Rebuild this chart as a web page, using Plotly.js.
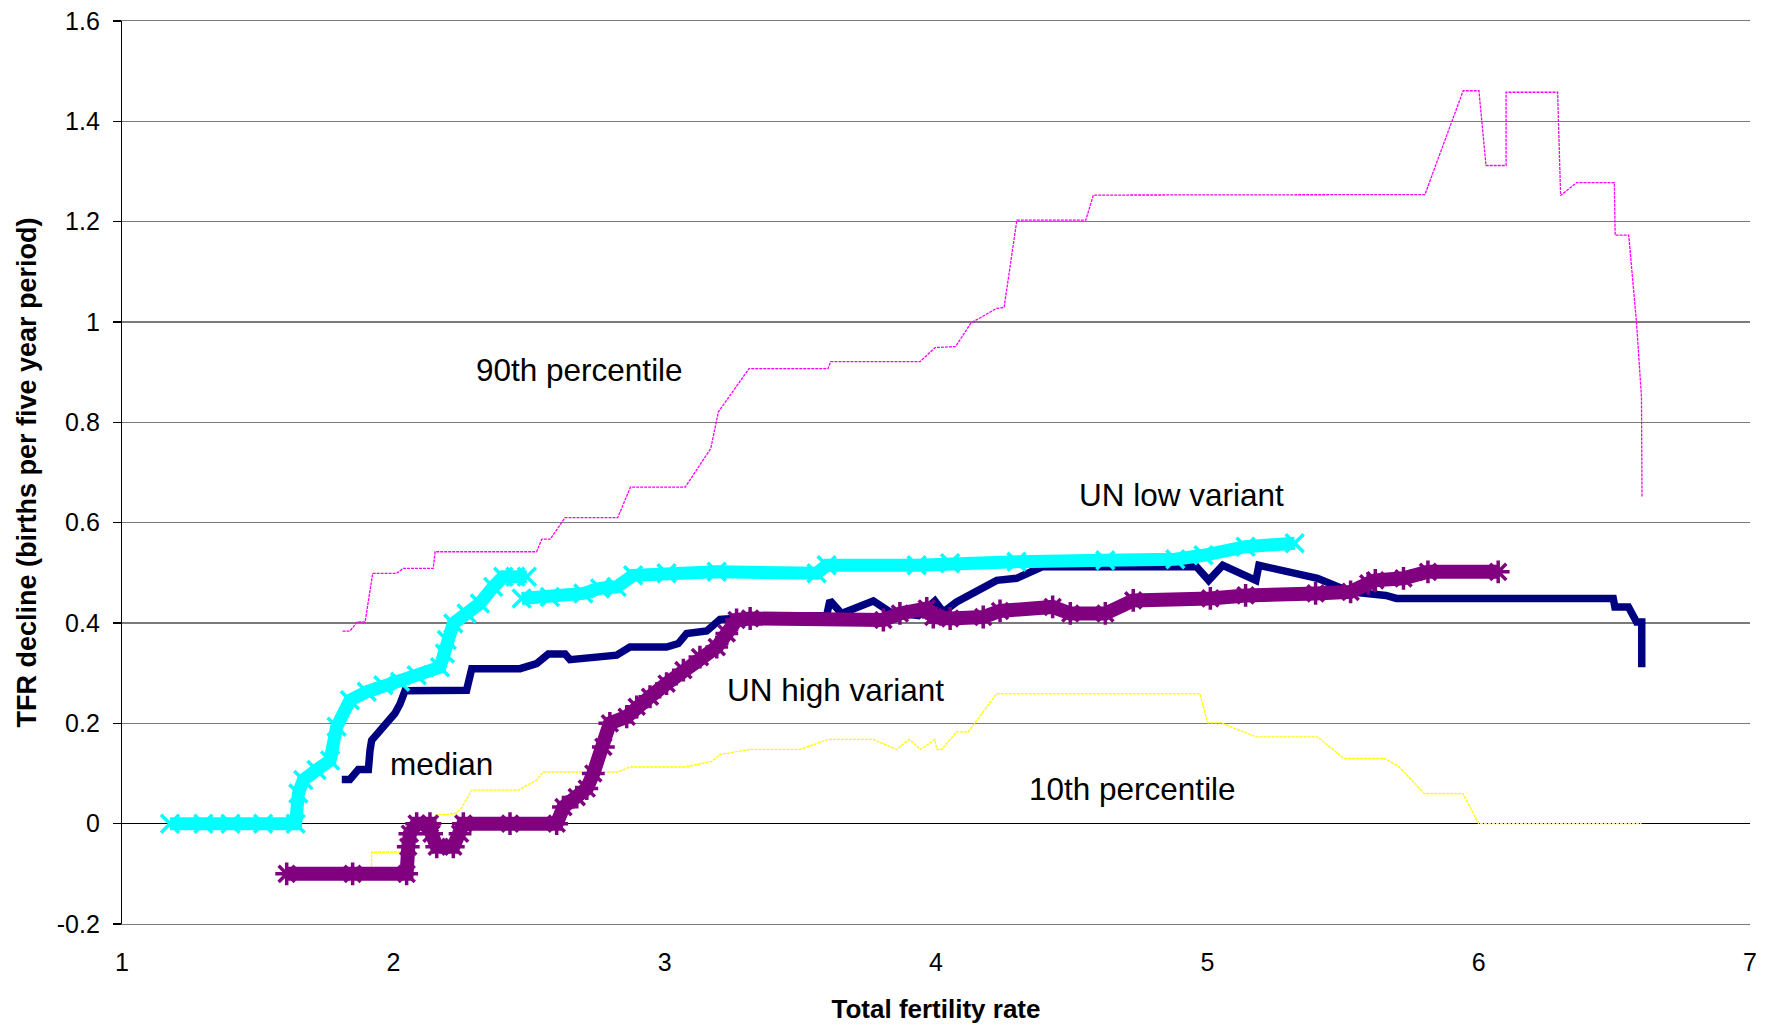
<!DOCTYPE html>
<html>
<head>
<meta charset="utf-8">
<script src="https://cdn.plot.ly/plotly-3.0.1.min.js"></script>
<style>
  html, body { margin: 0; padding: 0; background: #ffffff; }
  #chart { width: 1774px; height: 1025px; }
</style>
</head>
<body>
<div id="chart"></div>
<script>
// TFR decline per five-year period plotted against total fertility rate

// 90th percentile
const p90X = [1.813, 1.840, 1.867, 1.896, 1.924, 2.012, 2.037, 2.147, 2.154, 2.528, 2.547, 2.578, 2.633, 2.827,
  2.874, 3.076, 3.170, 3.198, 3.311, 3.602, 3.612, 3.941, 3.997, 4.072, 4.129, 4.223, 4.251, 4.298, 4.552, 4.580,
  5.802, 5.943, 6.001, 6.027, 6.101, 6.101, 6.291, 6.302, 6.361, 6.500, 6.503, 6.553, 6.582, 6.600, 6.602];
const p90Y = [0.384, 0.384, 0.402, 0.402, 0.499, 0.499, 0.509, 0.509, 0.542, 0.542, 0.567, 0.567, 0.610, 0.610,
  0.671, 0.671, 0.748, 0.821, 0.907, 0.907, 0.921, 0.921, 0.949, 0.951, 0.998, 1.027, 1.029, 1.203, 1.203, 1.253,
  1.254, 1.461, 1.461, 1.312, 1.312, 1.458, 1.458, 1.252, 1.278, 1.278, 1.173, 1.173, 0.997, 0.851, 0.651];

// 10th percentile
const p10X = [1.920, 1.920, 2.022, 2.045, 2.088, 2.157, 2.227, 2.250, 2.289, 2.461, 2.528, 2.553, 2.829, 2.872,
  3.075, 3.173, 3.204, 3.315, 3.499, 3.603, 3.769, 3.855, 3.902, 3.943, 3.996, 4.003, 4.021, 4.076, 4.119, 4.223,
  4.973, 5.001, 5.050, 5.179, 5.406, 5.503, 5.651, 5.703, 5.800, 5.942, 6.000, 6.600];
const p10Y = [-0.100, -0.057, -0.057, -0.050, -0.020, 0.017, 0.020, 0.030, 0.067, 0.067, 0.087, 0.103, 0.103, 0.113,
  0.113, 0.124, 0.138, 0.148, 0.148, 0.168, 0.168, 0.148, 0.168, 0.148, 0.168, 0.148, 0.148, 0.183, 0.183, 0.259,
  0.259, 0.201, 0.201, 0.173, 0.173, 0.130, 0.130, 0.115, 0.060, 0.060, 0.000, 0.000];

// median
const medX = [1.810, 1.840, 1.871, 1.908, 1.914, 1.920, 2.006, 2.025, 2.043, 2.098, 2.270, 2.289, 2.467, 2.528,
  2.571, 2.633, 2.651, 2.823, 2.872, 3.007, 3.050, 3.081, 3.155, 3.204, 3.253, 3.597, 3.609, 3.652, 3.769, 3.830,
  3.935, 3.996, 4.027, 4.076, 4.224, 4.297, 4.391, 4.960, 5.005, 5.057, 5.179, 5.190, 5.374, 5.406, 5.528, 5.658,
  5.697, 5.942, 6.020, 6.263, 6.496, 6.502, 6.552, 6.582, 6.601, 6.601];
const medY = [0.088, 0.088, 0.108, 0.108, 0.146, 0.166, 0.220, 0.239, 0.265, 0.265, 0.266, 0.309, 0.309, 0.319,
  0.338, 0.338, 0.327, 0.336, 0.352, 0.352, 0.359, 0.379, 0.384, 0.407, 0.409, 0.415, 0.445, 0.419, 0.444, 0.422,
  0.415, 0.444, 0.422, 0.442, 0.485, 0.489, 0.512, 0.512, 0.485, 0.515, 0.485, 0.515, 0.491, 0.489, 0.462, 0.455,
  0.449, 0.449, 0.447, 0.447, 0.449, 0.432, 0.432, 0.402, 0.402, 0.312];

// UN low variant
const lowX = [1.177, 1.300, 1.400, 1.520, 1.640, 1.650, 1.668, 1.717, 1.767, 1.791, 1.840, 1.902, 1.963, 2.025, 2.086, 2.172,
  2.190, 2.197, 2.221, 2.270, 2.319, 2.368, 2.405, 2.450, 2.492, null,
  2.473, 2.577, 2.700, 2.762, 2.823, 2.884, 3.007, 3.192, 3.560, 3.597, 3.929, 4.052, 4.297, 4.624, 4.882, 4.986,
  5.141, 5.322];
const lowY = [0.000, 0.000, 0.000, 0.000, 0.000, 0.060, 0.087, 0.107, 0.126, 0.193, 0.246, 0.263, 0.276, 0.283, 0.296, 0.312,
  0.339, 0.366, 0.399, 0.419, 0.439, 0.472, 0.492, 0.492, 0.492, null,
  0.449, 0.452, 0.459, 0.469, 0.472, 0.495, 0.499, 0.502, 0.499, 0.515, 0.515, 0.519, 0.522, 0.525, 0.527, 0.535,
  0.552, 0.559];

// UN high variant
const highX = [1.607, 1.850, 2.049, 2.055, 2.061, 2.086, 2.135, 2.141, 2.160, 2.221, 2.246, 2.258, 2.430, 2.602,
  2.627, 2.676, 2.713, 2.737, 2.774, 2.798, 2.860, 2.897, 2.946, 3.007, 3.069, 3.130, 3.192, 3.229, 3.265, 3.315,
  3.806, 3.867, 3.966, 3.990, 4.052, 4.174, 4.236, 4.430, 4.495, 4.624, 4.727, 5.011, 5.141, 5.399, 5.528, 5.593,
  5.619, 5.723, 5.813, 6.072];
const highY = [-0.100, -0.100, -0.100, -0.046, -0.020, 0.000, 0.000, -0.020, -0.046, -0.046, -0.020, 0.000, 0.000, 0.000,
  0.033, 0.053, 0.070, 0.100, 0.153, 0.200, 0.213, 0.233, 0.253, 0.279, 0.306, 0.332, 0.352, 0.379, 0.406, 0.409,
  0.406, 0.419, 0.429, 0.412, 0.409, 0.412, 0.424, 0.432, 0.419, 0.419, 0.445, 0.449, 0.455, 0.459, 0.462, 0.479,
  0.485, 0.489, 0.502, 0.502];

// In-chart series labels
const labelText = ['90th percentile', 'UN low variant', 'UN high variant', 'median', '10th percentile'];
const labelX = [2.686, 4.904, 3.628, 2.177, 4.724];
const labelY = [0.905, 0.655, 0.266, 0.119, 0.070];

// Axis ticks
const xTickVals = [1, 2, 3, 4, 5, 6, 7];
const xTickText = ['1', '2', '3', '4', '5', '6', '7'];
const yTickVals = [-0.2, 0, 0.2, 0.4, 0.6, 0.8, 1, 1.2, 1.4, 1.6];
const yTickText = ['-0.2', '0', '0.2', '0.4', '0.6', '0.8', '1', '1.2', '1.4', '1.6'];

const FONT = 'Liberation Sans, Arial, sans-serif';

const traces = [
  {
    x: p10X, y: p10Y, type: 'scatter', mode: 'lines', name: '10th percentile',
    line: { color: '#FFFF00', width: 1.3, dash: '3px,1px' }
  },
  {
    x: p90X, y: p90Y, type: 'scatter', mode: 'lines', name: '90th percentile',
    line: { color: '#FF00FF', width: 1.3, dash: '3px,1px' }
  },
  {
    x: medX, y: medY, type: 'scatter', mode: 'lines', name: 'median',
    line: { color: '#000080', width: 7.5 }
  },
  {
    x: lowX, y: lowY, type: 'scatter', mode: 'lines+markers', name: 'UN low variant',
    connectgaps: false,
    line: { color: '#00FFFF', width: 13 },
    marker: { symbol: 'x-thin-open', size: 18, color: '#00FFFF', line: { color: '#00FFFF', width: 3.5 } }
  },
  {
    x: highX, y: highY, type: 'scatter', mode: 'lines+markers', name: 'UN high variant',
    line: { color: '#800080', width: 14 },
    marker: { symbol: 'asterisk-open', size: 19, color: '#800080', line: { color: '#800080', width: 3.5 } }
  }
];

const annotations = labelText.map((t, i) => ({
  x: labelX[i], y: labelY[i], xref: 'x', yref: 'y',
  text: t, showarrow: false, xanchor: 'center', yanchor: 'middle',
  font: { family: FONT, size: 31.5, color: '#000000' }
}));

const layout = {
  width: 1774,
  height: 1025,
  paper_bgcolor: '#ffffff',
  plot_bgcolor: '#ffffff',
  showlegend: false,
  margin: { l: 122, r: 24, t: 21, b: 101, pad: 0 },
  font: { family: FONT, color: '#000000' },
  xaxis: {
    range: [1, 7],
    tickmode: 'array', tickvals: xTickVals, ticktext: xTickText,
    ticks: '', showgrid: false, zeroline: false,
    showline: true, mirror: true, linecolor: '#7a7a7a', linewidth: 1.3,
    ticklabelstandoff: 16,
    tickfont: { family: FONT, size: 25, color: '#000000' },
    title: { text: 'Total fertility rate', standoff: 24,
             font: { family: FONT, size: 26, color: '#000000', weight: 'bold' } },
    automargin: false
  },
  xaxis2: {
    overlaying: 'x', anchor: 'free', position: 0.2 / 1.8,
    range: [1, 7], tickmode: 'array', tickvals: xTickVals,
    ticks: 'outside', ticklen: 8, tickwidth: 1.2, tickcolor: '#000000',
    showticklabels: false, showgrid: false, zeroline: false, showline: false
  },
  yaxis: {
    range: [-0.2, 1.6],
    tickmode: 'array', tickvals: yTickVals, ticktext: yTickText,
    ticks: 'outside', ticklen: 8, tickwidth: 1.2, tickcolor: '#000000',
    ticklabelstandoff: 8,
    showline: true, linecolor: '#000000', linewidth: 1.2,
    showgrid: true, gridcolor: '#7a7a7a', gridwidth: 1.3,
    zeroline: true, zerolinecolor: '#000000', zerolinewidth: 1.5,
    tickfont: { family: FONT, size: 25, color: '#000000' },
    title: { text: 'TFR decline (births per five year period)', standoff: 12,
             font: { family: FONT, size: 27, color: '#000000', weight: 'bold' } },
    automargin: false
  },
  annotations: annotations
};

Plotly.newPlot('chart', traces, layout, { staticPlot: true, displayModeBar: false });
</script>
</body>
</html>
